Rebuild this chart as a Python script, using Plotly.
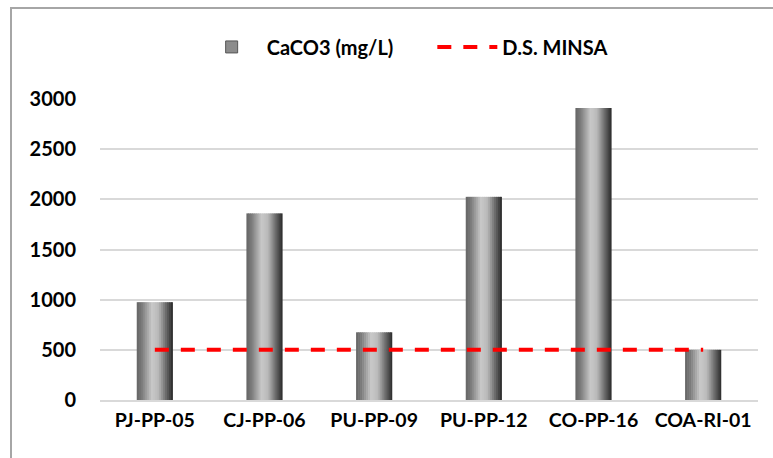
import plotly.graph_objects as go

categories = ["PJ-PP-05", "CJ-PP-06", "PU-PP-09", "PU-PP-12", "CO-PP-16", "COA-RI-01"]
caco3 = [975, 1860, 675, 2025, 2910, 500]
minsa = [500, 500, 500, 500, 500, 500]
y_ticks = [0, 500, 1000, 1500, 2000, 2500, 3000]

# horizontal shading of the bars (left -> right), interpolated between style stops
stops = [(0.0, 100), (0.15, 125), (0.42, 200), (0.6, 185), (0.8, 110), (1.0, 40)]
n = 18


def grey(t):
    for (t0, v0), (t1, v1) in zip(stops[:-1], stops[1:]):
        if t0 <= t <= t1:
            v = v0 + (v1 - v0) * (t - t0) / (t1 - t0)
            v = int(round(v))
            return f"rgb({v},{v},{v})"
    return "rgb(40,40,40)"


shade = [grey((i + 0.5) / n) for i in range(n)]
bar_w = 0.33
sw = bar_w / n

fig = go.Figure()
for i, c in enumerate(shade):
    fig.add_trace(go.Bar(
        x=categories, y=caco3,
        width=sw * 1.3 if i < n - 1 else sw, offset=-bar_w / 2 + i * sw,
        marker=dict(color=c, line=dict(width=0)),
        showlegend=False, hoverinfo="skip"))
# legend entry for the bars
fig.add_trace(go.Bar(
    x=categories, y=[None] * len(categories), name="CaCO3 (mg/L)" + "\u00a0" * 7,
    marker=dict(color="#8c8c8c", line=dict(color="#555555", width=1))))
fig.add_trace(go.Scatter(
    x=categories, y=minsa, name="D.S. MINSA", mode="lines",
    line=dict(color="#ff0000", width=4, dash="14px,12px")))

font_family = "Lato, Calibri, Arial, sans-serif"
fig.update_layout(
    width=773, height=458,
    margin=dict(l=100, r=15, t=99, b=58),
    barmode="overlay",
    paper_bgcolor="white", plot_bgcolor="white",
    font=dict(family=font_family, size=20, color="#000000", weight="bold"),
    legend=dict(orientation="h", x=0.463, xanchor="center", y=1.173, yanchor="middle",
                font=dict(family=font_family, size=20, color="#000000", weight="bold"),
                itemwidth=60, traceorder="normal"),
    xaxis=dict(type="category", showgrid=False, showline=True, linecolor="#d9d9d9",
               linewidth=1.5, ticks="", ticklabelstandoff=2,
               tickfont=dict(size=19.5, weight="bold")),
    yaxis=dict(range=[0, 3000], tickvals=y_ticks, showgrid=True, gridcolor="#d9d9d9",
               gridwidth=1.5, zeroline=False, ticks="", ticklabelstandoff=23,
               tickfont=dict(size=20, weight="bold")),
    shapes=[dict(type="rect", xref="paper", yref="paper",
                 x0=(11 - 100) / 658, x1=1.05, y0=-0.3, y1=(400 - 8) / 301,
                 line=dict(color="#a6a6a6", width=2), layer="below")],
)

fig.write_html("out.html")
